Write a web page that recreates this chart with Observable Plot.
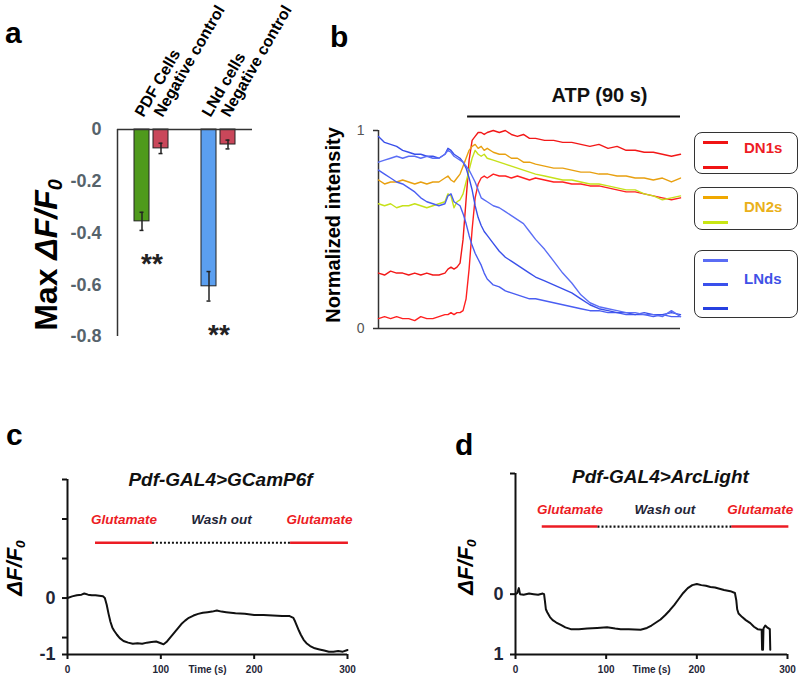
<!DOCTYPE html>
<html><head><meta charset="utf-8">
<script src="https://cdn.jsdelivr.net/npm/d3@7"></script>
<script src="https://cdn.jsdelivr.net/npm/@observablehq/plot@0.6"></script>
<style>
body{margin:0;background:#fff;}
#fig{position:relative;width:800px;height:679px;background:#fff;font-family:"Liberation Sans",Arial,sans-serif;overflow:hidden}
#fig svg{position:absolute;left:0;top:0}
.lbl{position:absolute;font-weight:bold;color:#000;white-space:nowrap;line-height:1}
.panel{font-size:30px}
.ylab{transform:translate(-50%,-50%) rotate(-90deg);transform-origin:center}
.ylab sub{font-size:0.62em;vertical-align:-0.25em}
.legbox{position:absolute;border:1.5px solid #333;border-radius:8px;box-sizing:border-box;left:694px;width:104px}
.legline{position:absolute;height:3px;width:25px;left:703px}
.legtxt{position:absolute;font-weight:bold;font-size:15px;line-height:1;left:744px}
</style></head>
<body>
<div id="fig">
  <div class="lbl panel" style="left:5px;top:18px">a</div>
  <div class="lbl panel" style="left:330px;top:22px">b</div>
  <div class="lbl panel" style="left:6px;top:420px">c</div>
  <div class="lbl panel" style="left:455px;top:430px">d</div>
  <div class="lbl ylab" style="left:48px;top:255px;font-size:32px">Max <i>ΔF/F<sub>0</sub></i></div>
  <div class="lbl ylab" style="left:333px;top:225px;font-size:20px">Normalized intensity</div>
  <div class="lbl ylab" style="left:16px;top:568px;font-size:22px"><i>ΔF/F<sub>0</sub></i></div>
  <div class="lbl ylab" style="left:467px;top:567px;font-size:22px"><i>ΔF/F<sub>0</sub></i></div>

  <div class="legbox" style="top:132px;height:42px"></div>
  <div class="legline" style="top:141px;background:#f01414"></div>
  <div class="legline" style="top:166px;background:#f01414"></div>
  <div class="legtxt" style="top:140px;color:#ee1c25">DN1s</div>

  <div class="legbox" style="top:187px;height:43px"></div>
  <div class="legline" style="top:196px;background:#f0a800"></div>
  <div class="legline" style="top:221px;background:#c8e614"></div>
  <div class="legtxt" style="top:199px;color:#eab01a">DN2s</div>

  <div class="legbox" style="top:250px;height:68px"></div>
  <div class="legline" style="top:259px;background:#5a6cf4"></div>
  <div class="legline" style="top:283px;background:#3a50ec"></div>
  <div class="legline" style="top:307px;background:#2640e0"></div>
  <div class="legtxt" style="top:271px;color:#3f51e6">LNds</div>
</div>
<script>
// ---------- Panel a data ----------
const aGroup = ["PDF", "PDF", "LNd", "LNd"];
const aKind = ["cells", "control", "cells", "control"];
const aLabel = ["PDF Cells", "Negative control", "LNd cells", "Negative control"];
const aMean = [-0.355, -0.073, -0.606, -0.058];
const aErr = [0.035, 0.02, 0.057, 0.017];
const aSig = ["**", "", "**", ""];
const aTicks = [0, -0.2, -0.4, -0.6, -0.8];

// ---------- Panel b data ----------
const bTime = [0,2,4,6,8,10,12,14,16,18,20,22,23,24,25,26,27,28,29,30,31,32,33,34,35,36,38,40,42,44,46,48,50,52,55,58,61,64,67,70,73,76,79,82,85,88,91,94,97,100];
const bDN1a = [0.28,0.27,0.29,0.28,0.28,0.27,0.28,0.27,0.28,0.27,0.27,0.28,0.30,0.31,0.30,0.31,0.33,0.45,0.65,0.85,0.95,0.97,0.99,0.99,0.98,0.99,1.0,0.99,1.0,0.98,0.97,0.98,0.96,0.96,0.95,0.95,0.94,0.94,0.93,0.92,0.93,0.91,0.92,0.90,0.90,0.89,0.89,0.88,0.87,0.88];
const bDN1b = [0.05,0.06,0.05,0.06,0.05,0.05,0.04,0.06,0.05,0.05,0.06,0.07,0.07,0.08,0.07,0.08,0.08,0.09,0.15,0.30,0.50,0.66,0.73,0.76,0.77,0.76,0.78,0.77,0.77,0.76,0.77,0.76,0.75,0.76,0.75,0.74,0.74,0.73,0.73,0.72,0.72,0.71,0.70,0.69,0.69,0.68,0.67,0.66,0.65,0.66];
const bDN2a = [0.75,0.73,0.74,0.74,0.75,0.74,0.73,0.74,0.73,0.74,0.74,0.76,0.77,0.75,0.74,0.76,0.78,0.82,0.86,0.90,0.92,0.93,0.91,0.92,0.90,0.91,0.89,0.88,0.88,0.86,0.86,0.84,0.84,0.83,0.82,0.81,0.81,0.80,0.79,0.79,0.78,0.78,0.77,0.77,0.76,0.76,0.75,0.76,0.74,0.76];
const bDN2b = [0.63,0.62,0.63,0.61,0.62,0.62,0.63,0.62,0.61,0.62,0.63,0.64,0.68,0.67,0.61,0.64,0.65,0.68,0.74,0.80,0.86,0.90,0.88,0.87,0.88,0.86,0.85,0.84,0.83,0.82,0.81,0.80,0.79,0.78,0.77,0.76,0.75,0.75,0.74,0.73,0.73,0.72,0.71,0.70,0.70,0.68,0.67,0.65,0.66,0.67];
const bLN1 = [0.80,0.78,0.76,0.74,0.73,0.71,0.69,0.66,0.64,0.63,0.62,0.63,0.67,0.68,0.64,0.63,0.62,0.58,0.53,0.47,0.42,0.38,0.35,0.32,0.28,0.25,0.22,0.21,0.19,0.18,0.17,0.16,0.15,0.15,0.14,0.13,0.12,0.11,0.10,0.09,0.09,0.08,0.08,0.07,0.07,0.07,0.06,0.07,0.06,0.06];
const bLN2 = [0.97,0.94,0.93,0.92,0.90,0.89,0.88,0.88,0.87,0.87,0.86,0.88,0.91,0.90,0.88,0.87,0.86,0.84,0.81,0.76,0.70,0.62,0.56,0.52,0.49,0.47,0.43,0.39,0.36,0.34,0.32,0.30,0.28,0.26,0.24,0.22,0.20,0.18,0.15,0.12,0.10,0.09,0.08,0.08,0.07,0.08,0.07,0.07,0.08,0.07];
const bLN3 = [0.84,0.85,0.86,0.87,0.86,0.87,0.87,0.86,0.87,0.86,0.86,0.88,0.90,0.89,0.87,0.86,0.85,0.84,0.82,0.80,0.77,0.74,0.70,0.66,0.65,0.64,0.62,0.61,0.59,0.57,0.55,0.53,0.49,0.45,0.40,0.34,0.28,0.23,0.17,0.13,0.11,0.10,0.09,0.08,0.08,0.07,0.07,0.06,0.09,0.06];
const bSeriesNames = ["DN1s 1","DN1s 2","DN2s 1","DN2s 2","LNds 1","LNds 2","LNds 3"];
const bSeriesValues = [bDN1a, bDN1b, bDN2a, bDN2b, bLN1, bLN2, bLN3];
const bTicks = [0, 1];
const atpLabel = "ATP (90 s)";
const atpStart = 29.5, atpEnd = 100;

// ---------- Panel c data ----------
const cTitle = "Pdf-GAL4>GCamP6f";
const cTime = [0,5,10,15,18,22,26,30,34,38,40,42,44,46,48,50,53,56,60,65,70,75,80,85,90,95,100,103,106,110,114,118,122,126,130,135,140,145,150,155,160,165,170,175,180,190,200,210,220,230,238,242,244,246,248,250,253,256,260,265,270,275,280,285,290,295,300];
const cValue = [0.0,0.03,0.05,0.06,0.08,0.06,0.05,0.05,0.04,0.03,0.0,-0.12,-0.28,-0.42,-0.52,-0.58,-0.65,-0.71,-0.76,-0.79,-0.81,-0.80,-0.81,-0.79,-0.78,-0.77,-0.80,-0.82,-0.78,-0.70,-0.62,-0.54,-0.46,-0.40,-0.35,-0.31,-0.28,-0.26,-0.25,-0.24,-0.22,-0.24,-0.25,-0.26,-0.27,-0.28,-0.30,-0.30,-0.31,-0.32,-0.32,-0.35,-0.42,-0.50,-0.58,-0.65,-0.74,-0.80,-0.85,-0.89,-0.91,-0.93,-0.95,-0.95,-0.94,-0.95,-0.92];
const cPhaseLabel = ["Glutamate", "Wash out", "Glutamate"];
const cPhaseStart = [30, 91, 239];
const cPhaseEnd = [91, 239, 301];
const cYTicks = [-1, -0.7, 0, 0.7, 1.4, 2.1];

// ---------- Panel d data ----------
const dTitle = "Pdf-GAL4>ArcLight";
const dTime = [0,2,3.7,5,9,15,20,25,30,31.5,32.5,33.5,35,38,41,45,50,55,61,70,79,90,101,110,116,125,138,145,150,155,160,165,170,175,180,185,190,195,200,205,210,215,220,225,230,237,242,243.5,244.5,246,250,254,259,263,267,271.5,272,273,273.5,275.5,277.5,280.5,281];
const dValue = [0.0,-0.02,-0.10,0.0,0.01,-0.01,0.0,0.01,-0.01,0.0,0.12,0.25,0.30,0.38,0.43,0.47,0.51,0.55,0.58,0.58,0.57,0.56,0.55,0.57,0.58,0.58,0.59,0.56,0.52,0.47,0.42,0.35,0.27,0.18,0.08,-0.02,-0.10,-0.15,-0.17,-0.15,-0.14,-0.12,-0.11,-0.09,-0.07,-0.05,-0.02,0.10,0.25,0.32,0.38,0.43,0.48,0.54,0.58,0.59,0.92,0.92,0.57,0.52,0.55,0.58,0.92];
const dPhaseLabel = ["Glutamate", "Wash out", "Glutamate"];
const dPhaseStart = [29.5, 91, 238.5];
const dPhaseEnd = [91, 238.5, 301.5];
const dYTicks = [1, 0, -2];
const xTicks = [0, 100, 200, 300];

// ---------- build tables ----------
const aTable = aGroup.map((g, i) => ({group: g, kind: aKind[i], label: aLabel[i], mean: aMean[i], err: aErr[i], sig: aSig[i]}));
const bTable = bSeriesNames.flatMap((s, k) => bTime.map((t, i) => ({series: s, t, v: bSeriesValues[k][i]})));
const cTrace = cTime.map((t, i) => ({t, v: cValue[i]}));
const dTrace = dTime.map((t, i) => ({t, v: dValue[i]}));
const cPhases = cPhaseLabel.map((l, i) => ({label: l, start: cPhaseStart[i], end: cPhaseEnd[i]}));
const dPhases = dPhaseLabel.map((l, i) => ({label: l, start: dPhaseStart[i], end: dPhaseEnd[i]}));

const FONT = '"Liberation Sans", Arial, sans-serif';
const st = {background: "none", overflow: "visible", fontFamily: FONT, color: "#000"};
const fig = document.getElementById("fig");
const RED = "#ec1c24";

// ---------- Panel a: axis (unfaceted) ----------
const plotAaxis = Plot.plot({
  width: 800, height: 679,
  marginLeft: 117, marginRight: 548, marginTop: 129, marginBottom: 343,
  style: st,
  x: {domain: [0, 1], axis: null},
  y: {domain: [-0.8, 0]},
  marks: [
    Plot.axisY({ticks: aTicks, tickSize: 0, tickPadding: 16, fontSize: 18, fontWeight: "bold",
      fill: "#56636b", label: null, tickFormat: d => d === 0 ? "0" : d.toFixed(1)}),
    Plot.ruleX([0], {y1: -0.8, y2: 0, stroke: "#333", strokeWidth: 1.5}),
    Plot.ruleY([0], {x1: 0, x2: 1, stroke: "#333", strokeWidth: 1.5})
  ]
});

// ---------- Panel a: bars (faceted by group) ----------
const plotA = Plot.plot({
  width: 800, height: 679,
  marginLeft: 117, marginRight: 548, marginTop: 129, marginBottom: 343,
  style: st,
  fx: {domain: ["PDF", "LNd"], padding: 0, axis: null},
  x: {domain: ["cells", "control"], paddingInner: 0.195, paddingOuter: 0.85, axis: null},
  y: {domain: [-0.8, 0], axis: null},
  color: {domain: ["PDF Cells", "LNd cells", "Negative control"], range: ["#4f9a1c", "#5b9ff0", "#c9475a"]},
  marks: [
    Plot.barY(aTable, {fx: "group", x: "kind", y: "mean", fill: "label", stroke: "#222", strokeWidth: 1}),
    Plot.ruleX(aTable, {fx: "group", x: "kind", y1: d => d.mean - d.err, y2: d => d.mean + d.err, stroke: "#222", strokeWidth: 1.5}),
    Plot.tickY(aTable, {fx: "group", x: "kind", y: d => d.mean - d.err, insetLeft: 5.5, insetRight: 5.5, stroke: "#222", strokeWidth: 1.5}),
    Plot.tickY(aTable, {fx: "group", x: "kind", y: d => d.mean + d.err, insetLeft: 5.5, insetRight: 5.5, stroke: "#222", strokeWidth: 1.5}),
    Plot.text(aTable.filter(d => d.sig), {fx: "group", y: d => d.mean - d.err - 0.13, text: "sig", fontSize: 28, fontWeight: "bold", fill: "#222"}),
    Plot.text(aTable, {fx: "group", x: "kind", y: 0, text: "label", rotate: -60, textAnchor: "start", lineAnchor: "middle",
      dy: -14, dx: -3, fontSize: 16, fontWeight: "bold", fill: "#000"})
  ]
});

// ---------- Panel b ----------
const plotB = Plot.plot({
  width: 800, height: 679,
  marginLeft: 378, marginRight: 120, marginTop: 130, marginBottom: 351,
  style: st,
  x: {domain: [0, 100], axis: null},
  y: {domain: [0, 1]},
  color: {domain: bSeriesNames, range: ["#f21818", "#ff2020", "#e8a010", "#c6e11a", "#4a5ef2", "#3a50ea", "#5b6ef5"]},
  marks: [
    Plot.axisY({ticks: bTicks, tickSize: 5, tickPadding: 9, fontSize: 14, fill: "#555", stroke: "#333",
      strokeWidth: 1.5, label: null, tickFormat: d => String(d)}),
    Plot.ruleX([0], {y1: 0, y2: 1, stroke: "#333", strokeWidth: 1.5}),
    Plot.ruleY([0], {x1: 0, x2: 100, stroke: "#333", strokeWidth: 1.5}),
    Plot.lineY(bTable, {x: "t", y: "v", z: "series", stroke: "series", strokeWidth: 1.4}),
    Plot.ruleY([1], {x1: atpStart, x2: atpEnd, dy: -14, stroke: "#111", strokeWidth: 2.2}),
    Plot.text([atpLabel], {x: atpEnd, y: 1, dy: -35, dx: -33, textAnchor: "end", text: d => d, fontSize: 20, fontWeight: "bold", fill: "#111"})
  ]
});

// ---------- Panels c & d ----------
function tracePanel({left, right, top, bottom, yDomain, yTicks, yFmt, trace, phases, barY, labelY, title, titleDx, titleDy}) {
  return Plot.plot({
    width: 800, height: 679,
    marginLeft: left, marginRight: 800 - right, marginTop: top, marginBottom: 679 - bottom,
    style: st,
    x: {domain: [0, 300]},
    y: {domain: yDomain},
    marks: [
      Plot.axisX({ticks: xTicks, tickSize: 5, tickPadding: 6, fontSize: 10, fontWeight: "bold", fill: "#1f2637",
        stroke: "#111", strokeWidth: 2, label: null}),
      Plot.axisY({ticks: yTicks, tickSize: 5, tickPadding: 7, fontSize: 18, fontWeight: "bold", fill: "#1f2637",
        stroke: "#111", strokeWidth: 2, label: null, tickFormat: yFmt}),
      Plot.ruleX([0], {y1: yDomain[0], y2: yDomain[1], stroke: "#111", strokeWidth: 2}),
      Plot.ruleY([yDomain[0]], {x1: 0, x2: 300, stroke: "#111", strokeWidth: 2}),
      Plot.line(trace, {x: "t", y: "v", stroke: "#111", strokeWidth: 2}),
      Plot.ruleY(phases.filter(d => d.label !== "Wash out"), {x1: "start", x2: "end", y: barY, stroke: RED, strokeWidth: 2.5}),
      Plot.ruleY(phases.filter(d => d.label === "Wash out"), {x1: "start", x2: "end", y: barY, stroke: "#111", strokeWidth: 2.2, strokeDasharray: "2,2"}),
      Plot.text(phases.filter(d => d.label !== "Wash out"), {x: d => (d.start + d.end) / 2, y: labelY, text: "label",
        fill: RED, fontSize: 13.5, fontWeight: "bold", fontStyle: "italic"}),
      Plot.text(phases.filter(d => d.label === "Wash out"), {x: d => (d.start + d.end) / 2, y: labelY, text: "label",
        fill: "#1f2637", fontSize: 13.5, fontWeight: "bold", fontStyle: "italic"}),
      Plot.text([title], {frameAnchor: "top", dx: titleDx, dy: titleDy, text: d => d, fontSize: 19, fontWeight: "bold", fontStyle: "italic", fill: "#111"}),
      Plot.text(["Time (s)"], {frameAnchor: "bottom", dy: 18, text: d => d, fontSize: 10, fontWeight: "bold", fill: "#1f2637"})
    ]
  });
}

const plotC = tracePanel({left: 67, right: 347, top: 479, bottom: 654, yDomain: [-1, 2.1], yTicks: cYTicks,
  yFmt: d => d === 0 ? "0" : d === -1 ? "-1" : "", trace: cTrace, phases: cPhases, barY: 0.98, labelY: 1.39,
  title: cTitle, titleDx: 13, titleDy: -7});
const plotD = tracePanel({left: 515, right: 787, top: 473, bottom: 654, yDomain: [1, -2], yTicks: dYTicks,
  yFmt: d => d === 0 ? "0" : d === 1 ? "1" : "", trace: dTrace, phases: dPhases, barY: -1.12, labelY: -1.4,
  title: dTitle, titleDx: 9, titleDy: -4});

[plotAaxis, plotA, plotB, plotC, plotD].forEach(p => fig.insertBefore(p, fig.firstChild));
</script>
</body></html>
